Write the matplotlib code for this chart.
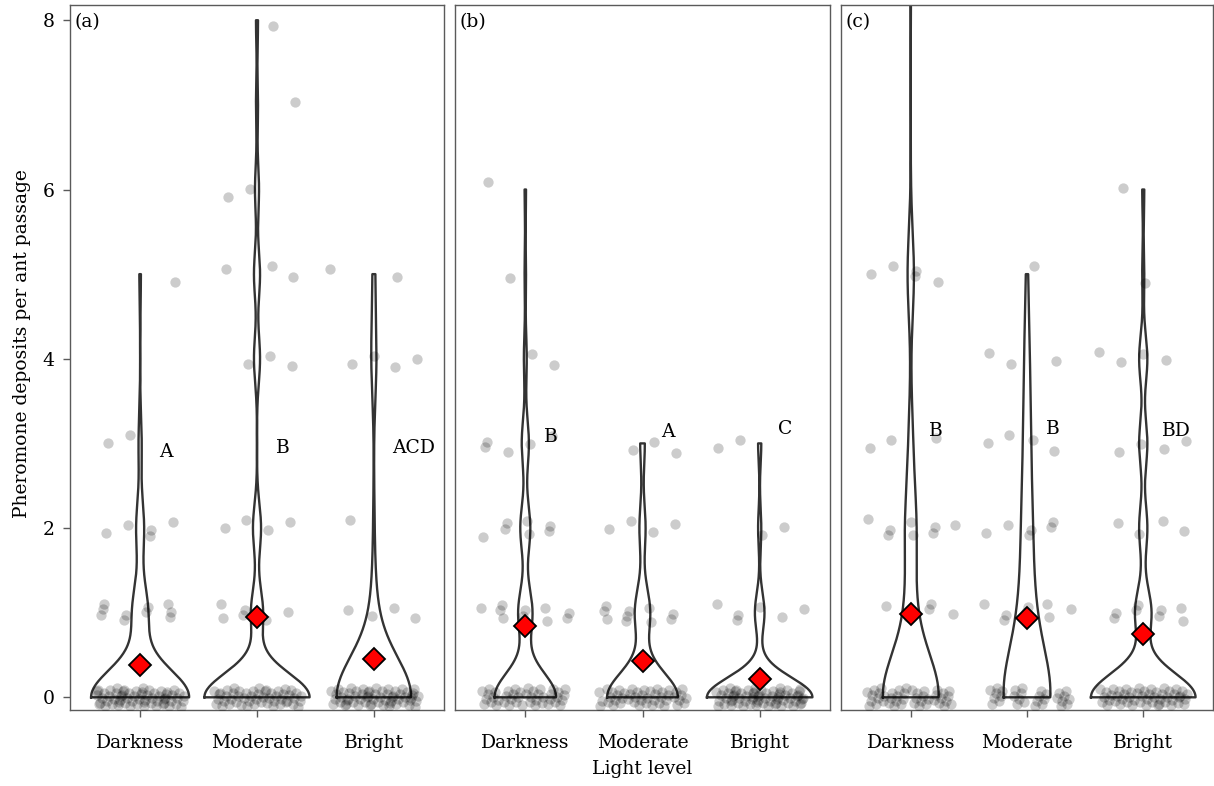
import numpy as np
import matplotlib
matplotlib.use('Agg')
import matplotlib.pyplot as plt

# pheromone deposits per ant passage: number of ants at each value 0,1,2,...
values = [0, 1, 2, 3, 4, 5, 6, 7, 8, 9]
categories = ['Darkness', 'Moderate', 'Bright']
panel_tags = ['(a)', '(b)', '(c)']

# panel (a)
a_dark = [62, 10, 5, 2, 0, 1]
a_mod = [52, 6, 4, 0, 3, 3, 2, 1, 1]
a_bright = [60, 4, 1, 0, 4, 2]
# panel (b)
b_dark = [43, 10, 7, 5, 2, 1, 1]
b_mod = [46, 10, 4, 3]
b_bright = [66, 6, 2, 2]
# panel (c)
c_dark = [43, 6, 8, 3, 0, 5, 0, 0, 0, 1]
c_mod = [30, 8, 6, 4, 3, 1]
c_bright = [51, 8, 4, 4, 4, 1, 1]

counts = [[a_dark, a_mod, a_bright],
          [b_dark, b_mod, b_bright],
          [c_dark, c_mod, c_bright]]

# significance letters and the height they sit at
letters = [['A', 'B', 'ACD'], ['B', 'A', 'C'], ['B', 'B', 'BD']]
letter_y = [[2.9, 2.95, 2.95], [3.08, 3.13, 3.17], [3.15, 3.17, 3.15]]

plt.rcParams['font.family'] = ['DejaVu Serif']
plt.rcParams['font.size'] = 13.5


def bw_nrd0(x):
    hi = np.std(x, ddof=1)
    q75, q25 = np.percentile(x, [75, 25])
    lo = min(hi, (q75 - q25) / 1.34)
    if lo == 0:
        lo = hi if hi > 0 else 1.0
    return 0.9 * lo * len(x) ** -0.2


def ydensity(x):
    bw = bw_nrd0(x)
    yy = np.linspace(x.min(), x.max(), 512)
    d = np.exp(-0.5 * ((yy[:, None] - x[None, :]) / bw) ** 2).sum(axis=1)
    d /= len(x) * bw * np.sqrt(2 * np.pi)
    return yy, d


def jitter_offsets(n, k):
    # R2 low-discrepancy sequence -> evenly spread offsets in [-1, 1]
    i = np.arange(1, n + 1) + 17 * k
    u = (0.5 + i * 0.7548776662) % 1.0
    v = (0.5 + i * 0.5698402910) % 1.0
    return 2 * u - 1, 2 * v - 1


fig = plt.figure(figsize=(12.14, 7.86), dpi=100)
lefts = [70, 455, 841]
rights = [444, 830, 1213]
W, H = 1214, 786
top, bottom = 5, 710

frame_col = '#5a5a5a'
for p in range(3):
    ax = fig.add_axes([lefts[p] / W, 1 - bottom / H,
                       (rights[p] - lefts[p]) / W, (bottom - top) / H])
    data = [np.repeat(values[:len(c)], c).astype(float) for c in counts[p]]
    dens = [ydensity(x) for x in data]
    dmax = max(d.max() for _, d in dens)

    for k, (x, (yy, d)) in enumerate(zip(data, dens)):
        pos = k + 1
        hw = 0.45 * d / dmax
        px = np.r_[pos - hw, (pos + hw)[::-1], pos - hw[0]]
        py = np.r_[yy, yy[::-1], yy[0]]
        ax.fill(px, py, color='white', zorder=1)
        ax.plot(px, py, color='#333333', lw=1.7, zorder=2, solid_joinstyle='round')

    for k, x in enumerate(data):
        pos = k + 1
        jx, jy = jitter_offsets(len(x), k + 3 * p)
        ax.scatter(pos + 0.38 * jx, x + 0.11 * jy, s=55, color='black',
                   alpha=0.2, linewidths=0, zorder=3)

    for k, x in enumerate(data):
        ax.plot(k + 1, x.mean(), marker='D', ms=11.5, mfc='#ff0000', mec='black',
                mew=1.3, zorder=5, linestyle='none')
        ax.text(k + 1 + 0.16, letter_y[p][k], letters[p][k], ha='left',
                va='center', fontsize=13.5, zorder=6)

    ax.set_xlim(0.4, 3.6)
    ax.set_ylim(-0.15, 8.18)
    ax.set_xticks([1, 2, 3])
    ax.set_xticklabels(categories)
    ax.set_yticks([0, 2, 4, 6, 8])
    ax.tick_params(axis='both', colors=frame_col, labelcolor='black',
                   length=5, width=1, direction='out', pad=12)
    ax.tick_params(axis='y', pad=6)
    if p > 0:
        ax.tick_params(axis='y', left=False, labelleft=False)
    for sp in ax.spines.values():
        sp.set_color(frame_col)
        sp.set_linewidth(1)
    ax.text(0.012, 0.988, panel_tags[p], transform=ax.transAxes,
            ha='left', va='top', fontsize=13.5)
    if p == 0:
        ax.set_ylabel('Pheromone deposits per ant passage')
        ax.yaxis.set_label_coords(-0.135 + 0.03, 0.52)
    if p == 1:
        ax.set_xlabel('Light level', labelpad=6)

fig.savefig('out.png', dpi=100)
